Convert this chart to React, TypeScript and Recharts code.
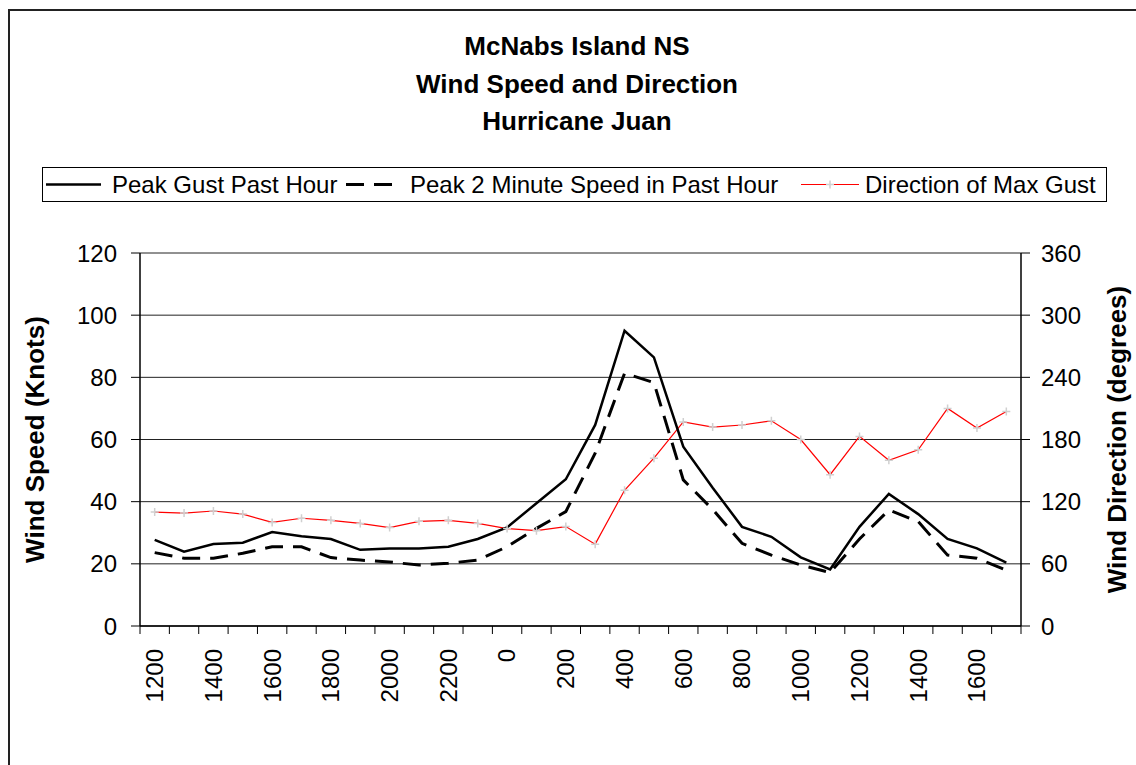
import React from 'react';
import {
  ComposedChart,
  Line,
  XAxis,
  YAxis,
  CartesianGrid,
} from 'recharts';

const hours = [
  '1200', '1300', '1400', '1500', '1600', '1700', '1800', '1900', '2000', '2100', '2200', '2300',
  '0', '100', '200', '300', '400', '500', '600', '700', '800', '900', '1000', '1100',
  '1200', '1300', '1400', '1500', '1600', '1700',
];

// knots
const peakGust = [
  27.7, 23.9, 26.4, 26.8, 30.2, 28.9, 28.0, 24.5, 24.9, 24.9, 25.5, 28.0,
  31.7, 39.5, 47.2, 64.7, 95.0, 86.4, 57.7, 44.5, 31.9, 28.7, 22.1, 18.2,
  31.9, 42.5, 36.0, 28.0, 25.0, 20.4,
];

const peak2Min = [
  23.6, 21.8, 21.8, 23.4, 25.5, 25.5, 22.0, 21.2, 20.6, 19.6, 20.2, 21.2,
  25.5, 31.4, 36.8, 55.6, 81.3, 78.3, 47.0, 37.5, 26.6, 22.8, 19.6, 17.2,
  28.0, 37.3, 33.6, 22.8, 21.8, 18.0,
];

// degrees
const gustDirection = [
  110, 109, 111, 108, 100, 104, 102, 99, 95, 101, 102, 99,
  94, 92, 96, 79, 131, 162, 197, 192, 194, 198, 180, 146,
  183, 160, 170, 210, 191, 207,
];

const speedTicks = [0, 20, 40, 60, 80, 100, 120];
const dirTicks = [0, 60, 120, 180, 240, 300, 360];

const data = hours.map((h, i) => ({
  i,
  hour: h,
  gust: peakGust[i],
  twoMin: peak2Min[i],
  dir: gustDirection[i],
}));

const boundaryTicks = hours.map((_, i) => i - 0.5).concat([hours.length - 0.5]);
const labelTicks = hours.map((_, i) => i).filter((i) => i % 2 === 0);

const FONT = '"Liberation Sans", Arial, sans-serif';

const CrossDot = (props: any) => {
  const { cx, cy, index } = props;
  if (cx == null || cy == null) return <g key={`d-${index}`} />;
  return (
    <path
      key={`d-${index}`}
      d={`M${cx - 4},${cy}h8M${cx},${cy - 4}v8`}
      stroke="#d0d0d0"
      strokeWidth={1.5}
      fill="none"
    />
  );
};

const EmptyTick = () => <g />;

const HourTick = (props: any) => {
  const { x, y, payload } = props;
  return (
    <text
      x={x}
      y={y + 22}
      transform={`rotate(-90 ${x} ${y + 22})`}
      textAnchor="end"
      dy="0.35em"
      fontSize={24}
      fontFamily={FONT}
      fill="#000"
    >
      {hours[payload.value]}
    </text>
  );
};

const legendText: React.CSSProperties = { position: 'absolute', top: 3, lineHeight: '28px' };

export default function App() {
  return (
    <div style={{ position: 'relative', width: 1136, height: 765, overflow: 'hidden', background: '#fff', fontFamily: FONT }}>
      <style>{'body{margin:0;overflow:hidden}'}</style>
      <div
        style={{
          position: 'absolute', left: 8, top: 9, width: 1300, height: 900,
          border: '2px solid #222', boxSizing: 'border-box',
        }}
      />

      <div
        style={{
          position: 'absolute', left: 277, top: 28, width: 600, textAlign: 'center',
          fontWeight: 'bold', fontSize: 26, lineHeight: '37.5px', color: '#000',
        }}
      >
        <div>McNabs Island NS</div>
        <div>Wind Speed and Direction</div>
        <div>Hurricane Juan</div>
      </div>

      <div
        style={{
          position: 'absolute', left: 42, top: 167, width: 1065, height: 35,
          border: '1px solid #000', boxSizing: 'border-box',
          fontSize: 24, color: '#000', whiteSpace: 'nowrap',
        }}
      >
        <svg width={1063} height={33} style={{ position: 'absolute', left: 0, top: 0 }}>
          <line x1={3} y1={16.5} x2={58} y2={16.5} stroke="#000" strokeWidth={2.5} />
          <line x1={303} y1={16.5} x2={358} y2={16.5} stroke="#000" strokeWidth={3} strokeDasharray="18 10" />
          <line x1={758} y1={16.5} x2={816} y2={16.5} stroke="#ff0000" strokeWidth={1.2} />
          <path d="M783,16.5h8M787,12.5v8" stroke="#d0d0d0" strokeWidth={1.5} />
        </svg>
        <span style={{ ...legendText, left: 69 }}>Peak Gust Past Hour</span>
        <span style={{ ...legendText, left: 367 }}>Peak 2 Minute Speed in Past Hour</span>
        <span style={{ ...legendText, left: 822 }}>Direction of Max Gust</span>
      </div>

      <ComposedChart
        width={1136}
        height={765}
        data={data}
        margin={{ top: 253, right: 0, left: 0, bottom: 0 }}
        style={{ position: 'absolute', left: 0, top: 0 }}
      >
        <CartesianGrid yAxisId="left" vertical={false} stroke="#222" strokeWidth={1} />
        <XAxis
          xAxisId={0}
          type="number"
          dataKey="i"
          domain={[-0.5, hours.length - 0.5]}
          ticks={boundaryTicks}
          interval={0}
          tick={<EmptyTick />}
          tickSize={8}
          height={1}
          axisLine={{ stroke: '#000', strokeWidth: 1.5 }}
          tickLine={{ stroke: '#000' }}
        />
        <XAxis
          xAxisId={1}
          type="number"
          dataKey="i"
          domain={[-0.5, hours.length - 0.5]}
          ticks={labelTicks}
          interval={0}
          axisLine={false}
          tickLine={false}
          tickSize={0}
          tickMargin={0}
          height={138}
          tick={<HourTick />}
        />
        <YAxis
          yAxisId="left"
          domain={[0, 120]}
          ticks={speedTicks}
          interval={0}
          width={140}
          tickSize={9}
          tickMargin={14}
          axisLine={{ stroke: '#000', strokeWidth: 1.5 }}
          tickLine={{ stroke: '#000' }}
          tick={{ fontSize: 24, fill: '#000', fontFamily: FONT }}
          label={{
            value: 'Wind Speed (Knots)',
            angle: -90,
            position: 'insideLeft',
            offset: 35,
            style: { textAnchor: 'middle', fontSize: 26, fontWeight: 'bold', fill: '#000', fontFamily: FONT },
          }}
        />
        <YAxis
          yAxisId="right"
          orientation="right"
          domain={[0, 360]}
          ticks={dirTicks}
          interval={0}
          width={115}
          tickSize={9}
          tickMargin={11}
          axisLine={{ stroke: '#000', strokeWidth: 1.5 }}
          tickLine={{ stroke: '#000' }}
          tick={{ fontSize: 24, fill: '#000', fontFamily: FONT }}
          label={{
            value: 'Wind Direction (degrees)',
            angle: -90,
            position: 'insideRight',
            offset: 19,
            style: { textAnchor: 'middle', fontSize: 26, fontWeight: 'bold', fill: '#000', fontFamily: FONT },
          }}
        />
        <Line
          xAxisId={1}
          yAxisId="right"
          dataKey="dir"
          type="linear"
          stroke="#ff0000"
          strokeWidth={1.2}
          dot={<CrossDot />}
          activeDot={false}
          isAnimationActive={false}
        />
        <Line
          xAxisId={1}
          yAxisId="left"
          dataKey="twoMin"
          type="linear"
          stroke="#000"
          strokeWidth={3}
          strokeDasharray="18 10"
          dot={false}
          activeDot={false}
          isAnimationActive={false}
        />
        <Line
          xAxisId={0}
          yAxisId="left"
          dataKey="gust"
          type="linear"
          stroke="#000"
          strokeWidth={2.5}
          dot={false}
          activeDot={false}
          isAnimationActive={false}
        />
      </ComposedChart>
    </div>
  );
}
